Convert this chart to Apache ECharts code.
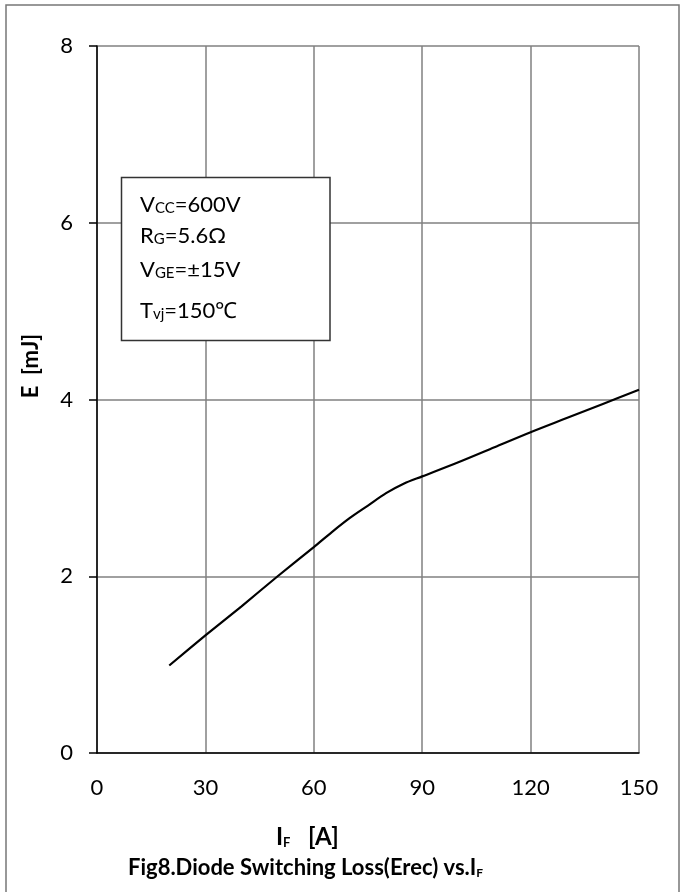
<!DOCTYPE html>
<html>
<head>
<meta charset="utf-8">
<script src="https://cdn.jsdelivr.net/npm/echarts@6/dist/echarts.min.js"></script>
<style>html,body{margin:0;padding:0;background:#fff}#c{width:688px;height:892px}</style>
</head>
<body>
<div id="c"></div>
<script>
const currentA = [20, 30, 40, 50, 60, 65, 70, 75, 80, 85, 90, 100, 110, 120, 130, 140, 150];
const energyMJ = [0.99, 1.33, 1.66, 2.0, 2.33, 2.5, 2.66, 2.8, 2.94, 3.05, 3.13, 3.29, 3.46, 3.63, 3.79, 3.95, 4.11];
const xTicks = [0, 30, 60, 90, 120, 150];
const yTicks = [0, 2, 4, 6, 8];
const boxLines = [
  ['V', 'CC', '=600V'],
  ['R', 'G', '=5.6Ω'],
  ['V', 'GE', '=±15V'],
  ['T', 'vj', '=150℃']
];

const FONT = 'Lato, "Open Sans", sans-serif';
const chart = echarts.init(document.getElementById('c'), null, {renderer: 'canvas'});

const lineYs = [205.5, 237, 270.7, 312];
const boxTexts = boxLines.map((l, i) => ({
  type: 'text', left: 140, top: lineYs[i] - 12, z: 20,
  style: {
    text: '{m|' + l[0] + '}{s|' + l[1] + '}{m|' + l[2] + '}',
    rich: {
      m: {fontFamily: FONT, fontSize: 22, lineHeight: 24, fill: '#000', color: '#000', verticalAlign: 'bottom'},
      s: {fontFamily: FONT, fontSize: 15, lineHeight: 19, fill: '#000', color: '#000', verticalAlign: 'bottom'}
    }
  }
}));

const boldTok = (size, lh) => ({font: 'bold ' + size + 'px Lato, sans-serif', fontFamily: 'Lato',
  fontWeight: 'bold', fontSize: size, lineHeight: lh, fill: '#000', color: '#000', verticalAlign: 'bottom'});

chart.setOption({
  animation: false,
  grid: {left: 97, right: 49, top: 46, bottom: 139},
  xAxis: {
    type: 'value', min: 0, max: 150, interval: 30,
    axisLine: {show: true, onZero: false, lineStyle: {color: '#000', width: 1.5}},
    axisTick: {show: false},
    axisLabel: {fontFamily: FONT, fontSize: 22, color: '#000', margin: 24,
      formatter: v => xTicks.includes(v) ? String(v) : ''},
    splitLine: {show: true, lineStyle: {color: '#808080', width: 1.5}}
  },
  yAxis: {
    type: 'value', min: 0, max: 8, interval: 2,
    axisLine: {show: true, onZero: false, lineStyle: {color: '#000', width: 1.5}},
    axisTick: {show: true, inside: false, length: 8, lineStyle: {color: '#000', width: 1.5}},
    axisLabel: {fontFamily: FONT, fontSize: 22, color: '#000', margin: 24,
      formatter: v => yTicks.includes(v) ? String(v) : ''},
    splitLine: {show: true, lineStyle: {color: '#808080', width: 1.5}}
  },
  series: [{
    type: 'line',
    data: currentA.map((x, i) => [x, energyMJ[i]]),
    showSymbol: false,
    smooth: 0.3,
    lineStyle: {color: '#000', width: 2.2},
    z: 5
  }],
  graphic: [
    {type: 'rect', z: -1, shape: {x: 6, y: 5, width: 673, height: 900},
      style: {fill: 'none', stroke: '#777', lineWidth: 1.5}},
    {type: 'rect', z: 15, shape: {x: 121.5, y: 177.5, width: 208.5, height: 163},
      style: {fill: '#fff', stroke: '#333', lineWidth: 1.5}},
    ...boxTexts,
    {type: 'text', z: 20, x: 31, y: 366, rotation: Math.PI / 2,
      style: {text: 'E  [mJ]', font: 'bold 22px Lato, sans-serif', fill: '#000',
        align: 'center', verticalAlign: 'middle'}},
    {type: 'text', z: 20, left: 276, top: 825,
      style: {
        text: '{b|I}{s|F}{b|   [A]}',
        rich: {b: boldTok(24, 28), s: boldTok(13, 13)}
      }},
    {type: 'text', z: 20, left: 128, top: 857,
      style: {
        text: '{b|Fig8.Diode Switching Loss(Erec) vs.I}{s|F}',
        rich: {b: boldTok(22, 27), s: boldTok(12, 12)}
      }}
  ]
});
</script>
</body>
</html>
